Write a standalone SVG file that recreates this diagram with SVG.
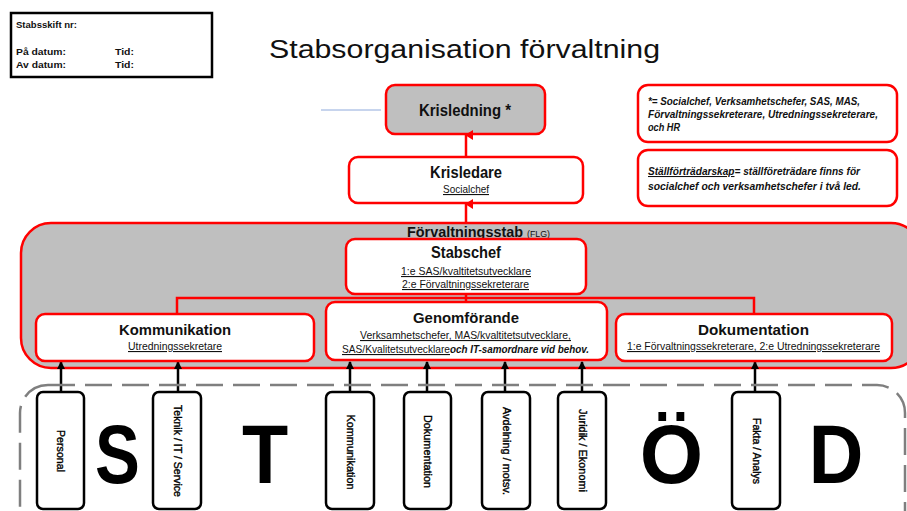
<svg xmlns="http://www.w3.org/2000/svg" width="907" height="511" viewBox="0 0 907 511">
<style>
text{font-family:"Liberation Sans",Arial,sans-serif;fill:#111}
.b{font-weight:bold}
.bi{font-weight:bold;font-style:italic}
.u{text-decoration:underline}
.red{fill:#fff;stroke:#ff0000;stroke-width:2.5}
.gray{fill:#bfbfbf;stroke:#ff0000;stroke-width:2.5}
.stab{fill:#fff;stroke:#000;stroke-width:2.5}
.rc{fill:none;stroke:#ff0000;stroke-width:2.5}
.bc{fill:none;stroke:#000;stroke-width:2.5}
.big{font-weight:bold;font-size:84px;fill:#000}
.vt{font-size:10px;fill:#000;stroke:#000;stroke-width:0.35}
</style>
<defs>
<marker id="ar" markerUnits="userSpaceOnUse" markerWidth="10" markerHeight="10" refX="5" refY="1" orient="auto-start-reverse" viewBox="0 0 10 10">
<path d="M0,8 L5,0 L10,8 Z" fill="#ff0000"/>
</marker>
<marker id="ab" markerUnits="userSpaceOnUse" markerWidth="10" markerHeight="10" refX="5" refY="1" viewBox="0 0 10 10">
<path d="M1,8 L5,0 L9,8 Z" fill="#000"/>
</marker>
</defs>

<g id="header">
<rect x="11" y="13" width="201" height="64" fill="#fff" stroke="#000" stroke-width="2.5"/>
<text x="16" y="27.5" class="b" font-size="9.5" textLength="61" lengthAdjust="spacingAndGlyphs">Stabsskift nr:</text>
<text x="16" y="55" class="b" font-size="9.5" textLength="50" lengthAdjust="spacingAndGlyphs">På datum:</text>
<text x="16" y="67.5" class="b" font-size="9.5" textLength="50" lengthAdjust="spacingAndGlyphs">Av datum:</text>
<text x="115" y="55" class="b" font-size="9.5" textLength="19" lengthAdjust="spacingAndGlyphs">Tid:</text>
<text x="115" y="67.5" class="b" font-size="9.5" textLength="19" lengthAdjust="spacingAndGlyphs">Tid:</text>
</g>

<text id="title" x="269" y="58" font-size="26" textLength="391" lengthAdjust="spacingAndGlyphs">Stabsorganisation förvaltning</text>

<line x1="321" y1="110" x2="381" y2="110" stroke="#8faadc" stroke-width="1"/>

<g id="krisledning">
<rect x="386" y="85" width="159" height="49" rx="9" class="gray"/>
<text x="419" y="116" class="b" font-size="17" textLength="92" lengthAdjust="spacingAndGlyphs">Krisledning *</text>
</g>

<g id="krisledare">
<rect x="349" y="157" width="234" height="46" rx="9" class="red"/>
<text x="430" y="178" class="b" font-size="16" textLength="72" lengthAdjust="spacingAndGlyphs">Krisledare</text>
<text x="443" y="193" class="u" font-size="11" fill="#333" textLength="46" lengthAdjust="spacingAndGlyphs">Socialchef</text>
</g>

<g id="note1">
<rect x="638" y="85" width="259" height="57" rx="10" class="red"/>
<text x="648" y="105" class="bi" font-size="10.5" textLength="212" lengthAdjust="spacingAndGlyphs">*= Socialchef, Verksamhetschefer, SAS, MAS,</text>
<text x="648" y="118" class="bi" font-size="10.5" textLength="230" lengthAdjust="spacingAndGlyphs">Förvaltningssekreterare, Utredningssekreterare,</text>
<text x="648" y="131" class="bi" font-size="10.5" textLength="32" lengthAdjust="spacingAndGlyphs">och HR</text>
</g>

<g id="note2">
<rect x="638" y="150" width="259" height="56" rx="10" class="red"/>
<text x="648" y="175" class="bi" font-size="10.5" textLength="212" lengthAdjust="spacingAndGlyphs"><tspan class="u">Ställförträdarskap</tspan>= ställföreträdare finns för</text>
<text x="648" y="190" class="bi" font-size="10.5" textLength="213" lengthAdjust="spacingAndGlyphs">socialchef och verksamhetschefer i två led.</text>
</g>

<g id="forvaltningsstab">
<rect x="21" y="223" width="900" height="145" rx="30" class="gray"/>
<text x="407" y="237" class="b" font-size="15" textLength="116" lengthAdjust="spacingAndGlyphs">Förvaltningsstab</text>
<text x="527" y="237" font-size="9" textLength="23" lengthAdjust="spacingAndGlyphs">(FLG)</text>
</g>

<g id="stabschef">
<rect x="346" y="239" width="240" height="55" rx="9" class="red"/>
<text x="431" y="258" class="b" font-size="16" textLength="70" lengthAdjust="spacingAndGlyphs">Stabschef</text>
<text x="401" y="275" class="u" font-size="11" fill="#333" textLength="130" lengthAdjust="spacingAndGlyphs">1:e SAS/kvaltitetsutvecklare</text>
<text x="402" y="288" class="u" font-size="11" fill="#333" textLength="127" lengthAdjust="spacingAndGlyphs">2:e Förvaltningssekreterare</text>
</g>

<g id="connectors">
<line x1="466" y1="223" x2="466" y2="204" class="rc" marker-end="url(#ar)"/>
<line x1="466" y1="157" x2="466" y2="135" class="rc" marker-end="url(#ar)"/>
<path d="M466,294 V302 M177,314 V298 H754 V314" class="rc"/>
<line x1="61" y1="392" x2="61" y2="362" class="bc" marker-end="url(#ab)"/>
<line x1="178" y1="392" x2="178" y2="362" class="bc" marker-end="url(#ab)"/>
<line x1="350" y1="392" x2="350" y2="362" class="bc" marker-end="url(#ab)"/>
<line x1="427" y1="392" x2="427" y2="362" class="bc" marker-end="url(#ab)"/>
<line x1="505" y1="392" x2="505" y2="362" class="bc" marker-end="url(#ab)"/>
<line x1="582" y1="392" x2="582" y2="362" class="bc" marker-end="url(#ab)"/>
<line x1="755" y1="392" x2="755" y2="362" class="bc" marker-end="url(#ab)"/>
</g>

<g id="kommunikation">
<rect x="36" y="314" width="278" height="47" rx="9" class="red"/>
<text x="119" y="335" class="b" font-size="15" textLength="112" lengthAdjust="spacingAndGlyphs">Kommunikation</text>
<text x="128" y="350" class="u" font-size="11" fill="#333" textLength="94" lengthAdjust="spacingAndGlyphs">Utredningssekretare</text>
</g>

<g id="genomforande">
<rect x="326" y="302" width="281" height="58" rx="9" class="red"/>
<text x="413" y="323" class="b" font-size="15" textLength="106" lengthAdjust="spacingAndGlyphs">Genomförande</text>
<text x="360" y="339" class="u" font-size="11" fill="#333" textLength="211" lengthAdjust="spacingAndGlyphs">Verksamhetschefer, MAS/kvaltitetsutvecklare,</text>
<text x="342" y="353" class="u" font-size="11" fill="#333" textLength="108" lengthAdjust="spacingAndGlyphs">SAS/Kvalitetsutvecklare</text>
<text x="450" y="353" class="bi" font-size="11" textLength="139" lengthAdjust="spacingAndGlyphs">och IT-samordnare vid behov.</text>
</g>

<g id="dokumentation">
<rect x="616" y="314" width="276" height="47" rx="9" class="red"/>
<text x="698" y="335" class="b" font-size="15" textLength="111" lengthAdjust="spacingAndGlyphs">Dokumentation</text>
<text x="627" y="350" class="u" font-size="11" fill="#333" textLength="253" lengthAdjust="spacingAndGlyphs">1:e Förvaltningssekreterare, 2:e Utredningssekreterare</text>
</g>

<rect x="20" y="385" width="885" height="170" rx="28" fill="none" stroke="#7f7f7f" stroke-width="2.5" stroke-dasharray="27 10"/>

<g id="personal">
<rect x="37" y="392" width="47" height="117" rx="6" class="stab"/>
<text transform="translate(60.5,451) rotate(90)" x="-21" y="3.5" class="vt" textLength="42" lengthAdjust="spacingAndGlyphs">Personal</text>
</g>
<g id="teknik">
<rect x="153" y="392" width="48" height="117" rx="6" class="stab"/>
<text transform="translate(177,451) rotate(90)" x="-46" y="3.5" class="vt" textLength="92" lengthAdjust="spacingAndGlyphs">Teknik / IT / Service</text>
</g>
<g id="stab-kommunikation">
<rect x="326" y="392" width="48" height="117" rx="6" class="stab"/>
<text transform="translate(350,452) rotate(90)" x="-37.5" y="3.5" class="vt" textLength="75" lengthAdjust="spacingAndGlyphs">Kommunikation</text>
</g>
<g id="stab-dokumentation">
<rect x="404" y="392" width="47" height="117" rx="6" class="stab"/>
<text transform="translate(427.5,451.5) rotate(90)" x="-36.5" y="3.5" class="vt" textLength="73" lengthAdjust="spacingAndGlyphs">Dokumentation</text>
</g>
<g id="avdelning">
<rect x="482" y="392" width="48" height="117" rx="6" class="stab"/>
<text transform="translate(506,451) rotate(90)" x="-44" y="3.5" class="vt" textLength="88" lengthAdjust="spacingAndGlyphs">Avdelning / motsv.</text>
</g>
<g id="juridik">
<rect x="558" y="392" width="48" height="117" rx="6" class="stab"/>
<text transform="translate(582,450.5) rotate(90)" x="-41.5" y="3.5" class="vt" textLength="83" lengthAdjust="spacingAndGlyphs">Juridik / Ekonomi</text>
</g>
<g id="fakta">
<rect x="732" y="392" width="48" height="117" rx="6" class="stab"/>
<text transform="translate(756,451) rotate(90)" x="-33" y="3.5" class="vt" textLength="66" lengthAdjust="spacingAndGlyphs">Fakta / Analys</text>
</g>

<g id="letters">
<text transform="translate(117.5,483) scale(0.8,1)" text-anchor="middle" class="big">S</text>
<text transform="translate(265,483) scale(0.9,1)" text-anchor="middle" class="big">T</text>
<text transform="translate(671.5,483) scale(0.97,1)" text-anchor="middle" class="big">Ö</text>
<text transform="translate(836,483) scale(0.9,1)" text-anchor="middle" class="big">D</text>
</g>
</svg>
